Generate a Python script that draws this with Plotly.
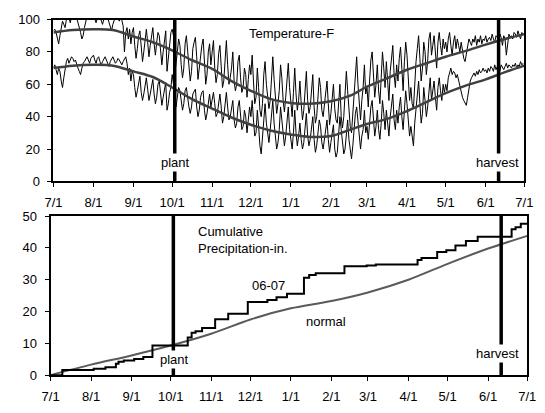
import pandas as pd
import plotly.graph_objects as go

START = "2006-07-01"
END = "2007-07-01"

# ---- daily temperatures (F), 7/1/2006 .. 6/30/2007 ----
tmax_jul = [93,94,92,88,85,90,96,99,97,95,100,103,101,98,102,104,103,100,101,98,96,92,88,90,95,99,102,103,101,104,102]
tmax_aug = [103,100,98,101,104,102,99,97,100,103,105,101,98,95,93,97,100,102,104,101,99,103,100,96,80,92,95,88,94,85,92]
tmax_sep = [95,84,76,82,90,93,80,74,80,88,94,86,77,84,91,95,85,78,86,92,90,80,72,80,86,93,68,76,88,92]
tmax_oct = [94,90,66,72,80,88,84,72,64,70,85,90,80,70,62,68,82,86,89,77,63,70,79,84,88,74,60,66,80,85,72]
tmax_nov = [80,87,70,61,66,79,84,72,58,62,76,87,72,60,64,70,80,62,56,60,74,78,64,55,58,70,66,52,63,72]
tmax_dec = [66,78,62,48,52,70,58,44,40,48,66,74,60,52,45,50,68,77,63,50,42,48,56,72,64,50,43,52,61,73,58]
tmax_jan = [46,40,55,70,54,44,50,62,48,38,44,57,68,50,42,46,60,66,46,36,40,52,64,58,44,40,48,55,62,48,35]
tmax_feb = [42,50,60,45,38,36,48,60,40,33,40,52,68,56,42,34,30,42,56,70,77,60,46,38,50,58,72,54]
tmax_mar = [58,46,62,75,80,66,52,60,72,56,48,64,80,70,58,74,62,50,68,78,84,66,58,72,62,76,83,70,56,74,86]
tmax_apr = [78,64,50,58,48,45,62,74,82,90,76,62,70,86,80,66,74,88,92,78,84,90,80,70,86,92,84,78,88,82]
tmax_may = [86,80,88,92,84,78,86,90,82,88,84,80,86,80,76,74,78,84,88,86,84,88,86,90,84,88,86,90,85,88,87]
tmax_jun = [90,86,88,89,87,91,88,86,90,89,87,91,89,84,90,88,78,86,91,89,90,88,92,91,89,93,90,88,92,91]

tmin_jul = [70,72,69,66,70,68,62,58,64,70,74,76,73,75,77,76,74,75,72,70,68,66,70,73,74,76,77,75,73,76,77]
tmin_aug = [78,75,73,76,77,74,72,74,76,77,75,73,71,74,76,77,75,73,74,76,75,73,72,74,76,77,73,66,70,62,68]
tmin_sep = [66,58,52,56,62,65,55,50,54,60,64,57,50,54,58,63,54,48,52,60,62,52,47,52,58,61,44,48,55,58]
tmin_oct = [66,60,50,46,52,58,56,48,44,48,56,58,50,46,42,46,54,56,57,46,40,44,52,55,56,44,38,42,50,54,46]
tmin_nov = [52,55,48,40,42,50,54,46,36,40,48,55,46,38,40,44,50,38,33,36,46,50,40,32,34,44,40,30,38,46]
tmin_dec = [40,50,38,28,30,44,34,22,17,26,38,48,36,28,24,32,42,50,36,26,20,24,32,46,38,28,22,28,36,46,32]
tmin_jan = [24,20,30,44,30,22,28,36,26,20,24,32,42,28,22,26,35,40,26,18,22,30,38,34,24,20,26,32,38,26,18]
tmin_feb = [24,30,35,20,15,18,28,40,32,22,17,20,28,38,26,18,14,22,32,42,46,36,26,20,28,32,44,30]
tmin_mar = [34,26,36,46,50,38,28,34,44,32,26,36,50,42,32,44,36,28,40,48,54,38,32,44,36,46,52,40,32,44,56]
tmin_apr = [48,38,28,34,26,22,36,46,54,62,48,36,42,58,50,40,46,58,64,50,56,62,52,44,58,64,56,50,60,55]
tmin_may = [60,56,64,68,70,66,68,67,64,66,62,60,56,52,50,48,47,52,58,62,64,66,67,65,68,66,69,67,68,70,68]
tmin_jun = [69,67,70,68,71,70,68,72,69,71,70,68,72,70,69,71,73,70,72,71,70,72,71,73,70,72,71,74,72,73]

# ---- normal temperatures (F) ----
norm_dates = ["2006-07-01","2006-07-16","2006-08-01","2006-08-16","2006-09-01","2006-09-16",
              "2006-10-01","2006-10-16","2006-11-01","2006-11-16","2006-12-01","2006-12-16",
              "2007-01-01","2007-01-16","2007-02-01","2007-02-16","2007-03-01","2007-03-16",
              "2007-04-01","2007-04-16","2007-05-01","2007-05-16","2007-06-01","2007-06-16","2007-07-01"]
norm_max = [92,93.5,94,93.5,89.5,86,81,75,69.5,62,56,51,48.5,48,49.5,53,58.5,63.5,69,73,77,80.5,84.5,88,91]
norm_min = [70,71.5,72,71.5,68,64.5,58,51,45,39.5,35,31.5,29,27.5,28,32,35.5,38.5,43.5,49,54.5,59,63,67.5,71.5]

# ---- cumulative precipitation (in.) 06-07, day offset from 7/1/2006 ----
precip_day = [0,9,33,42,50,52,56,64,71,78,105,108,111,116,126,136,151,166,173,181,194,198,203,
              225,242,249,281,284,296,303,310,318,327,353,356,360,365]
precip_cum = [0,1.6,2.0,2.5,3.6,4.2,4.6,5.1,5.7,9.3,11.8,13.3,13.8,14.8,17.6,19.3,23.0,23.6,24.5,25.6,30.6,31.5,32.0,
              34.2,34.5,34.8,36.2,36.8,38.7,39.3,40.8,42.2,43.5,45.9,46.5,47.6,47.6]

# ---- normal cumulative precipitation (in.) ----
pnorm_dates = ["2006-07-01","2006-08-01","2006-09-01","2006-10-01","2006-11-01","2006-12-01","2007-01-01",
               "2007-02-01","2007-03-01","2007-04-01","2007-05-01","2007-06-01","2007-07-01"]
pnorm_cum = [0,3.3,6.2,9.3,13.0,17.5,21.0,23.3,26.0,30.0,35.0,39.8,43.8]

plant_date = "2006-10-03"
harvest_date = "2007-06-11"

tick_dates = ["2006-07-01","2006-08-01","2006-09-01","2006-10-01","2006-11-01","2006-12-01","2007-01-01",
              "2007-02-01","2007-03-01","2007-04-01","2007-05-01","2007-06-01","2007-07-01"]
tick_labels = ["7/1","8/1","9/1","10/1","11/1","12/1","1/1","2/1","3/1","4/1","5/1","6/1","7/1"]

tmax = (tmax_jul + tmax_aug + tmax_sep + tmax_oct + tmax_nov + tmax_dec +
        tmax_jan + tmax_feb + tmax_mar + tmax_apr + tmax_may + tmax_jun)
tmin = (tmin_jul + tmin_aug + tmin_sep + tmin_oct + tmin_nov + tmin_dec +
        tmin_jan + tmin_feb + tmin_mar + tmin_apr + tmin_may + tmin_jun)
temp_dates = pd.date_range(START, periods=len(tmax), freq="D")
precip_dates = pd.Timestamp(START) + pd.to_timedelta(precip_day, unit="D")

W, H = 545, 413
FONT = "Liberation Sans, Arial, sans-serif"
FS = 13

fig = go.Figure()
thin = dict(color="black", width=1)
fig.add_trace(go.Scatter(x=temp_dates, y=tmax, mode="lines", line=thin, xaxis="x", yaxis="y"))
fig.add_trace(go.Scatter(x=temp_dates, y=tmin, mode="lines", line=thin, xaxis="x", yaxis="y"))
nl = dict(color="#404040", width=2.5, shape="spline", smoothing=1.0)
fig.add_trace(go.Scatter(x=norm_dates, y=norm_max, mode="lines", line=nl, xaxis="x", yaxis="y"))
fig.add_trace(go.Scatter(x=norm_dates, y=norm_min, mode="lines", line=nl, xaxis="x", yaxis="y"))

fig.add_trace(go.Scatter(x=pnorm_dates, y=pnorm_cum, mode="lines",
                         line=dict(color="#5a5a5a", width=2, shape="spline", smoothing=0.8),
                         xaxis="x2", yaxis="y2"))
fig.add_trace(go.Scatter(x=precip_dates, y=precip_cum, mode="lines",
                         line=dict(color="black", width=2, shape="hv"),
                         xaxis="x2", yaxis="y2"))

for d in (plant_date, harvest_date):
    fig.add_shape(type="line", xref="x", yref="y domain", x0=d, x1=d, y0=0, y1=1,
                  line=dict(color="black", width=3.5), layer="above")
    fig.add_shape(type="line", xref="x2", yref="y2 domain", x0=d, x1=d, y0=0, y1=1.012,
                  line=dict(color="black", width=3.5), layer="above")

def px(xp, yp):
    return xp / W, 1 - yp / H

annots = []
def ann(text, xp, yp, xanchor="center", bg=None, align="center"):
    x, y = px(xp, yp)
    d = dict(text=text, x=x, y=y, xref="paper", yref="paper", showarrow=False,
             xanchor=xanchor, yanchor="middle", align=align,
             font=dict(family=FONT, size=FS, color="black"))
    if bg:
        d.update(bgcolor=bg, borderpad=1)
    annots.append(d)

ann("Temperature-F", 292, 27)
ann("plant", 172, 161, bg="white")
ann("harvest", 505, 161, bg="white")
ann("plant", 171, 366, bg="white")
ann("harvest", 505, 360, bg="white")
ann("Cumulative<br>Precipitation-in.", 193, 242, xanchor="left", align="left")
ann("06-07", 268, 289)
ann("normal", 328, 326)

axis_common = dict(showline=True, linecolor="black", linewidth=2, mirror=True,
                   showgrid=False, zeroline=False, ticks="outside", ticklen=4,
                   tickcolor="black", tickwidth=1,
                   tickfont=dict(family=FONT, size=FS, color="black"))

fig.update_layout(
    width=W, height=H, margin=dict(l=0, r=0, t=0, b=0),
    paper_bgcolor="white", plot_bgcolor="white", showlegend=False,
    xaxis=dict(domain=[46 / W, 533 / W], anchor="y", type="date", range=[START, END],
               tickvals=tick_dates, ticktext=tick_labels, ticklabelstandoff=4, **axis_common),
    yaxis=dict(domain=[1 - 181 / H, 1 - 13 / H], anchor="x", range=[0, 100],
               tickvals=[0, 20, 40, 60, 80, 100], ticklabelstandoff=5, **axis_common),
    xaxis2=dict(domain=[43 / W, 536 / W], anchor="y2", type="date", range=[START, END],
                tickvals=tick_dates, ticktext=tick_labels, ticklabelstandoff=4, **axis_common),
    yaxis2=dict(domain=[1 - 382 / H, 1 - 217 / H], anchor="x2", range=[0, 50],
                tickvals=[0, 10, 20, 30, 40, 50], ticklabelstandoff=5, **axis_common),
    annotations=annots,
)

fig.write_html("out.html")
